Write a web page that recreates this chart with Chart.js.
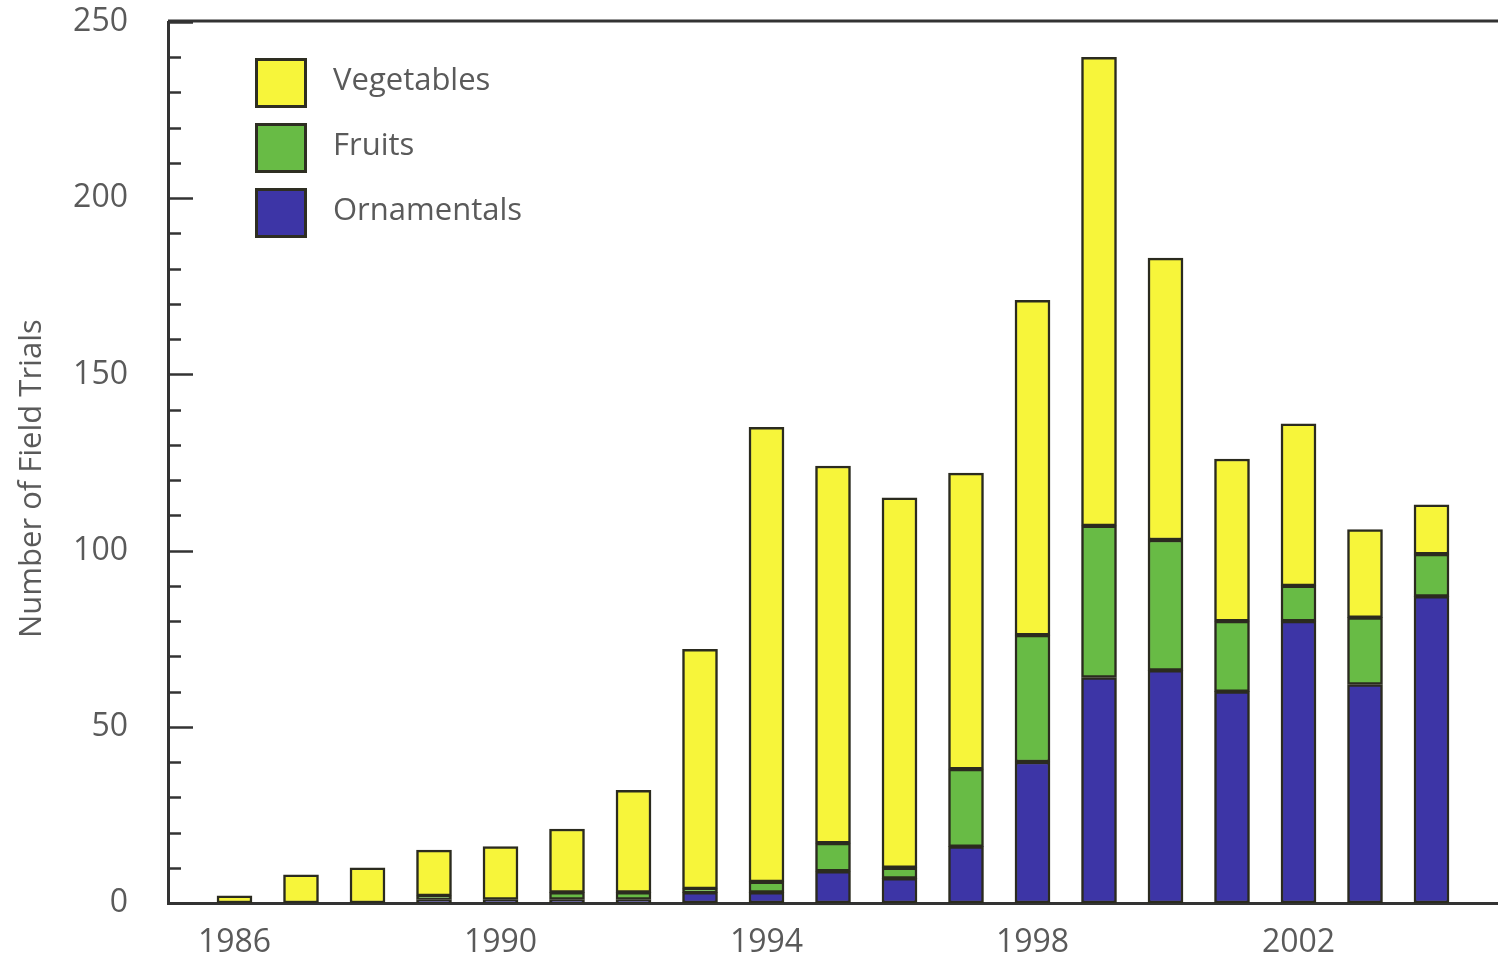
<!DOCTYPE html>
<html>
<head>
<meta charset="utf-8">
<script src="https://cdn.jsdelivr.net/npm/chart.js@4.4.1/dist/chart.umd.min.js"></script>
<style>
  html, body { margin: 0; padding: 0; background: #fff; }
  #wrap { position: relative; width: 1498px; height: 957px; }
  #legend { position: absolute; left: 255px; top: 50px; font-family: "Open Sans", sans-serif; font-size: 31px; color: #5a5a5a; }
  .item { display: flex; align-items: center; height: 65px; }
  .item span { position: relative; top: -5px; }
  .box { width: 46px; height: 44px; border: 3px solid #2e2e22; margin-right: 26px; box-sizing: content-box; }
</style>
</head>
<body>
<div id="wrap">
  <canvas id="c" width="1498" height="957"></canvas>
  <div id="legend"></div>
</div>
<script>
const years = [1986,1987,1988,1989,1990,1991,1992,1993,1994,1995,1996,1997,1998,1999,2000,2001,2002,2003,2004];
const ornamentals = [0,0,0,1,1,1,1,3,3,9,7,16,40,64,66,60,80,62,87];
const fruits      = [0,0,0,1,0,2,2,1,3,8,3,22,36,43,37,20,10,19,12];
const vegetables  = [2,8,10,13,15,18,29,68,129,107,105,84,95,133,80,46,46,25,14];
const xTickLabels = ['1986','1990','1994','1998','2002'];
const yTickValues = [0,50,100,150,200,250];
const seriesNames = ['Vegetables','Fruits','Ornamentals'];
const seriesColors = { Vegetables: '#f7f53a', Fruits: '#68bb45', Ornamentals: '#3d35a6' };

const labels = [String(years[0]-1), ...years.map(String), String(years[years.length-1]+1)];
const pad = arr => [null, ...arr, null];

const textColor = '#5a5a5a';
const font = { family: '"Open Sans", sans-serif', size: 32 };

const framePlugin = {
  id: 'frame',
  afterDraw(chart) {
    const ctx = chart.ctx, ca = chart.chartArea, y = chart.scales.y;
    ctx.save();
    ctx.strokeStyle = '#333';
    ctx.lineWidth = 3;
    ctx.beginPath();
    ctx.moveTo(ca.left, ca.top - 1);
    ctx.lineTo(chart.width, ca.top - 1);
    ctx.stroke();
    ctx.lineWidth = 2.5;
    for (let v = 0; v <= 250; v += 10) {
      const py = Math.round(y.getPixelForValue(v)) + 0.5;
      const len = (v % 50 === 0) ? 25 : 13;
      ctx.beginPath();
      ctx.moveTo(ca.left, py);
      ctx.lineTo(ca.left + len, py);
      ctx.stroke();
    }
    ctx.restore();
  }
};

const ds = (name, data) => ({
  label: name,
  data: pad(data),
  backgroundColor: seriesColors[name],
  borderColor: '#2b2b1f',
  borderWidth: 2.5,
  borderSkipped: false,
  barThickness: 35
});

new Chart(document.getElementById('c'), {
  type: 'bar',
  data: {
    labels,
    datasets: [ds('Ornamentals', ornamentals), ds('Fruits', fruits), ds('Vegetables', vegetables)]
  },
  options: {
    responsive: false,
    animation: false,
    layout: { padding: { top: 22, right: 0, left: 0, bottom: 0 } },
    plugins: { legend: { display: false }, tooltip: { enabled: false } },
    scales: {
      x: {
        stacked: true,
        offset: false,
        grid: { display: false, drawTicks: false },
        border: { display: true, color: '#333', width: 3 },
        ticks: {
          autoSkip: false, maxRotation: 0, minRotation: 0, padding: 21,
          color: textColor, font,
          callback(val, i) { const l = this.getLabelForValue(val); return xTickLabels.includes(l) ? l : ''; }
        },
        afterFit(s) { s.height = 54; s.paddingLeft = 0; s.paddingRight = 0; }
      },
      y: {
        stacked: true,
        min: 0, max: 250,
        grid: { display: false, drawTicks: false },
        border: { display: true, color: '#333', width: 3 },
        afterBuildTicks(s) { s.ticks = yTickValues.map(v => ({ value: v })); },
        ticks: { padding: 40, color: textColor, font },
        title: { display: true, text: 'Number of Field Trials    ', color: textColor, font: { family: '"Open Sans", sans-serif', size: 31 }, padding: { top: 14, bottom: 0 } },
        afterFit(s) { s.width = 168; s.paddingTop = 0; s.paddingBottom = 0; }
      }
    }
  },
  plugins: [framePlugin]
});

const leg = document.getElementById('legend');
seriesNames.forEach(n => {
  const it = document.createElement('div'); it.className = 'item';
  const b = document.createElement('div'); b.className = 'box'; b.style.background = seriesColors[n];
  const t = document.createElement('span'); t.textContent = n;
  it.appendChild(b); it.appendChild(t); leg.appendChild(it);
});
</script>
</body>
</html>
